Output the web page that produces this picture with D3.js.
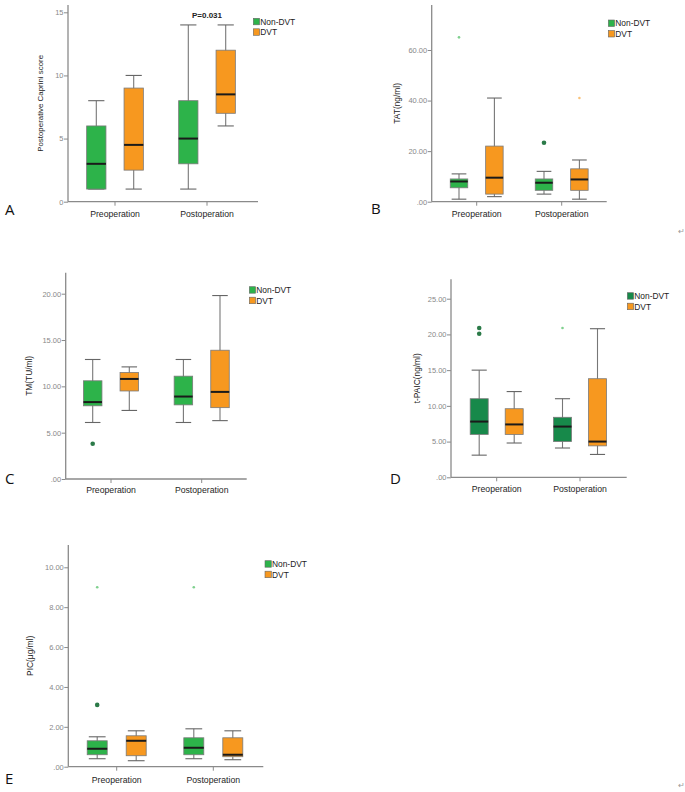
<!DOCTYPE html>
<html>
<head>
<meta charset="utf-8">
<script src="https://cdn.jsdelivr.net/npm/d3@7"></script>
<style>
  body { margin: 0; background: #fff; }
  svg { display: block; font-family: "Liberation Sans", Arial, sans-serif; }
</style>
</head>
<body>
<div id="chart"></div>
<script>
// categories and groups shared by all panels
const categories = ["Preoperation", "Postoperation"];
const groups = ["Non-DVT", "DVT"];

// box stats: [low whisker, q1, median, q3, high whisker]
// order: Pre Non-DVT, Pre DVT, Post Non-DVT, Post DVT
const capriniStats = [[1, 1, 3, 6, 8], [1, 2.5, 4.5, 9, 10], [1, 3, 5, 8, 14], [6, 7, 8.5, 12, 14]];
const capriniOutliers = [];
const capriniTicks = [0, 5, 10, 15];

const tatStats = [[1, 5.5, 8, 9, 11], [2, 3, 9.5, 22, 41], [3, 4.5, 7.5, 9, 12], [1, 4.5, 8.8, 13, 16.5]];
// [box index, value, kind]
const tatOutliers = [[0, 65, "star"], [2, 23.3, "circle"], [3, 41, "star"]];
const tatTicks = [0, 20, 40, 60];

const tmStats = [[6.1, 7.9, 8.3, 10.6, 12.9], [7.4, 9.5, 10.8, 11.5, 12.1], [6.1, 8, 8.9, 11.1, 12.9], [6.3, 7.7, 9.4, 13.9, 19.8]];
const tmOutliers = [[0, 3.8, "circle"]];
const tmTicks = [0, 5, 10, 15, 20];

const tpaicStats = [[3.1, 6, 7.8, 11, 15], [4.8, 6, 7.4, 9.6, 12], [4.1, 5, 7.1, 8.4, 11], [3.2, 4.4, 5, 13.8, 20.8]];
const tpaicOutliers = [[0, 20.1, "circle"], [0, 20.9, "circle"], [2, 20.9, "star"]];
const tpaicTicks = [0, 5, 10, 15, 20, 25];

const picStats = [[0.4, 0.6, 0.9, 1.3, 1.5], [0.3, 0.55, 1.3, 1.55, 1.8], [0.4, 0.6, 0.95, 1.45, 1.9], [0.35, 0.5, 0.6, 1.45, 1.8]];
const picOutliers = [[0, 3.1, "circle"], [0, 9.0, "star"], [2, 9.0, "star"]];
const picTicks = [0, 2, 4, 6, 8, 10];

const green = "#2db34a", darkGreen = "#17894a", orange = "#f7981f";

// panel layout (pixels), data comes from the arrays above
const panels = [
  { letter: "A", stats: capriniStats, outliers: capriniOutliers, ticks: capriniTicks, label: "Postoperative Caprini score", labSize: 7.9,
    ax: 68, axEnd: 258, y0: 201.7, yMax: 12.3, axTop: 5, cats: [115, 207], off: 18.7, bw: 19.3,
    fmt: d3.format("d"), legend: [253.3, 18.3], labX: 43, letterPos: [5, 215], xlabY: 216.5, p: "P=0.031", nonColor: green },
  { letter: "B", stats: tatStats, outliers: tatOutliers, ticks: tatTicks, label: "TAT(ng/ml)",
    ax: 431.7, axEnd: 606.7, y0: 201.7, yMax: 50, axTop: 5, cats: [476.7, 561.7], off: 17.7, bw: 17.5,
    legend: [608.3, 20], labX: 400, letterPos: [371, 214], xlabY: 216.5, nonColor: green },
  { letter: "C", stats: tmStats, outliers: tmOutliers, ticks: tmTicks, label: "TM(TU/ml)",
    ax: 65.7, axEnd: 246.7, y0: 479, yMax: 293.7, axTop: 272.7, cats: [111, 201.7], off: 18.3, bw: 18.5,
    legend: [249.3, 286.7], labX: 31.7, letterPos: [5, 484], xlabY: 493, nonColor: green },
  { letter: "D", stats: tpaicStats, outliers: tpaicOutliers, ticks: tpaicTicks, label: "t-PAIC(ng/ml)",
    ax: 451, axEnd: 626.7, y0: 477.3, yMax: 298.7, axTop: 279.3, cats: [496.7, 580], off: 17.5, bw: 18,
    legend: [627.3, 292.7], labX: 420, letterPos: [390, 484], xlabY: 491.5, nonColor: darkGreen },
  { letter: "E", stats: picStats, outliers: picOutliers, ticks: picTicks, label: "PIC(\u03bcg/ml)",
    ax: 68.3, axEnd: 263.3, y0: 766.7, yMax: 567.3, axTop: 545, cats: [116.7, 213.3], off: 19.5, bw: 20,
    legend: [265, 560.7], labX: 33.3, letterPos: [5, 784], xlabY: 783, nonColor: green }
];

const svg = d3.select("#chart").append("svg")
  .attr("width", 685)
  .attr("height", 792);

panels.forEach(function(p) {
  var g = svg.append("g");
  var tickFmt = p.fmt || function(d) { return d === 0 ? ".00" : d.toFixed(2); };

  var y = d3.scaleLinear()
    .domain([0, d3.max(p.ticks)])
    .range([p.y0, p.yMax]);
  var x = d3.scalePoint()
    .domain(categories)
    .range(p.cats);
  var inner = d3.scalePoint()
    .domain(groups)
    .range([-p.off, p.off]);

  // Y axis
  var yAxis = g.append("g")
    .attr("transform", "translate(" + p.ax + ",0)")
    .call(d3.axisLeft(y).tickValues(p.ticks).tickSize(4).tickFormat(tickFmt));
  yAxis.select(".domain").remove();
  yAxis.selectAll("line").attr("stroke", "#8a8a8a");
  yAxis.selectAll("text").attr("fill", "#888").style("font-size", "7.5px").attr("x", -4.5);
  g.append("line")
    .attr("x1", p.ax).attr("x2", p.ax)
    .attr("y1", p.axTop).attr("y2", p.y0)
    .attr("stroke", "#8a8a8a").attr("stroke-width", 1.3);

  // X axis
  g.append("line")
    .attr("x1", p.ax).attr("x2", p.axEnd)
    .attr("y1", p.y0).attr("y2", p.y0)
    .attr("stroke", "#8a8a8a").attr("stroke-width", 1.3);
  categories.forEach(function(c) {
    g.append("line")
      .attr("x1", x(c)).attr("x2", x(c))
      .attr("y1", p.y0).attr("y2", p.y0 + 4)
      .attr("stroke", "#8a8a8a");
    g.append("text")
      .attr("x", x(c)).attr("y", p.xlabY)
      .attr("text-anchor", "middle")
      .attr("fill", "#1e1e1e")
      .style("font-size", "8.7px")
      .text(c);
  });

  // Y label
  g.append("text")
    .attr("transform", "translate(" + p.labX + "," + ((p.y0 + p.axTop) / 2) + ") rotate(-90)")
    .attr("text-anchor", "middle")
    .attr("fill", "#222")
    .style("font-size", (p.labSize || 8.4) + "px")
    .text(p.label);

  // boxes
  var boxes = [];
  categories.forEach(function(c, ci) {
    groups.forEach(function(gr, gi) {
      boxes.push({ cat: c, group: gr, s: p.stats[ci * 2 + gi], cx: x(c) + inner(gr) });
    });
  });
  boxes.forEach(function(b) {
    var fill = b.group === "DVT" ? orange : p.nonColor;
    var cap = p.bw * 0.42;
    g.append("line")
      .attr("x1", b.cx).attr("x2", b.cx)
      .attr("y1", y(b.s[0])).attr("y2", y(b.s[4]))
      .attr("stroke", "#777").attr("stroke-width", 1.1);
    [b.s[0], b.s[4]].forEach(function(v) {
      g.append("line")
        .attr("x1", b.cx - cap).attr("x2", b.cx + cap)
        .attr("y1", y(v)).attr("y2", y(v))
        .attr("stroke", "#666").attr("stroke-width", 1.1);
    });
    g.append("rect")
      .attr("x", b.cx - p.bw / 2).attr("width", p.bw)
      .attr("y", y(b.s[3])).attr("height", y(b.s[1]) - y(b.s[3]))
      .attr("fill", fill)
      .attr("stroke", "#7a7a7a").attr("stroke-width", 0.8);
    g.append("line")
      .attr("x1", b.cx - p.bw / 2).attr("x2", b.cx + p.bw / 2)
      .attr("y1", y(b.s[2])).attr("y2", y(b.s[2]))
      .attr("stroke", "#1a1a1a").attr("stroke-width", 2);
  });

  // outliers
  p.outliers.forEach(function(o) {
    var b = boxes[o[0]];
    var isDvt = b.group === "DVT";
    if (o[2] === "circle") {
      g.append("circle")
        .attr("cx", b.cx).attr("cy", y(o[1])).attr("r", 2.3)
        .attr("fill", isDvt ? "#c76e00" : "#2b7a48");
    } else {
      g.append("circle")
        .attr("cx", b.cx).attr("cy", y(o[1])).attr("r", 1.3)
        .attr("fill", isDvt ? "#f9c27a" : "#7fd08e");
    }
  });

  // legend
  groups.forEach(function(gr, i) {
    var ly = p.legend[1] + i * 10.5;
    g.append("rect")
      .attr("x", p.legend[0]).attr("y", ly)
      .attr("width", 6.3).attr("height", 6.5)
      .attr("fill", gr === "DVT" ? orange : p.nonColor)
      .attr("stroke", "#666").attr("stroke-width", 0.6);
    g.append("text")
      .attr("x", p.legend[0] + 7).attr("y", ly + 6.3)
      .attr("fill", "#222")
      .style("font-size", "8.4px")
      .text(gr);
  });

  // panel letter
  g.append("text")
    .attr("x", p.letterPos[0]).attr("y", p.letterPos[1])
    .attr("fill", "#111")
    .style("font-size", "15px")
    .style("font-family", "'Open Sans', sans-serif")
    .text(p.letter);

  if (p.p) {
    g.append("text")
      .attr("x", x(categories[1])).attr("y", 17.5)
      .attr("text-anchor", "middle")
      .attr("fill", "#222")
      .style("font-size", "8px")
      .style("font-weight", "bold")
      .text(p.p);
  }
});

// paragraph marks at the right edge
[[681, 234], [681, 788]].forEach(function(pt) {
  svg.append("text")
    .attr("x", pt[0]).attr("y", pt[1])
    .attr("text-anchor", "middle")
    .attr("fill", "#999")
    .style("font-size", "8px")
    .text("\u21b5");
});
</script>
</body>
</html>
